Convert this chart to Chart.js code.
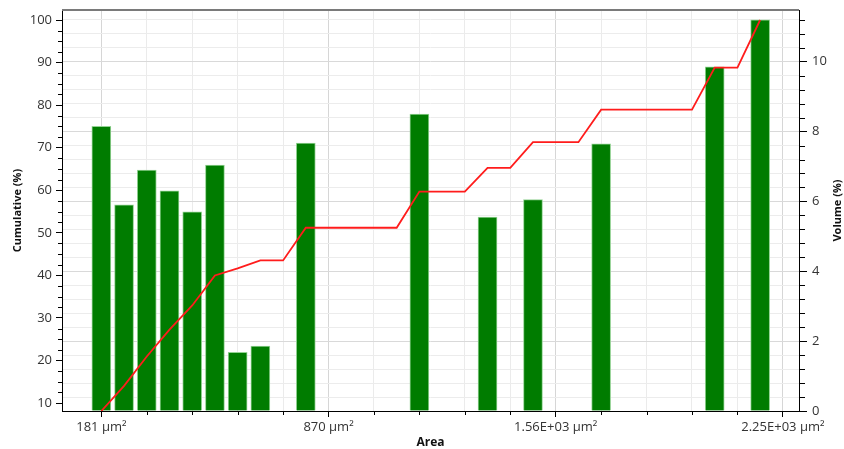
<!DOCTYPE html>
<html>
<head>
<meta charset="utf-8">
<script src="https://cdn.jsdelivr.net/npm/chart.js@4/dist/chart.umd.min.js"></script>
<style>
  html, body { margin: 0; padding: 0; background: #ffffff; }
  #wrap { width: 844px; height: 449px; }
</style>
</head>
<body>
<div id="wrap"><canvas id="chart" width="844" height="449"></canvas></div>
<script>
// Area bins (µm²), one per class
const areaBins = [181, 250, 319, 388, 457, 526, 595, 664, 733, 802,
                  871, 940, 1009, 1078, 1147, 1216, 1285, 1354, 1423, 1492,
                  1561, 1630, 1699, 1768, 1837, 1906, 1975, 2044, 2113, 2182];

// Volume share of each bin (%)
const volumePct = [8.15, 5.9, 6.9, 6.3, 5.7, 7.04, 1.68, 1.86, 0, 7.67,
                   0, 0, 0, 0, 8.5, 0, 0, 5.55, 0, 6.05,
                   0, 0, 7.65, 0, 0, 0, 0, 9.85, 0, 11.2];

// Cumulative volume (%) at each bin
const cumulativePct = [8.15, 14.05, 20.95, 27.25, 32.95, 39.99, 41.67, 43.53, 43.53, 51.2,
                       51.2, 51.2, 51.2, 51.2, 59.7, 59.7, 59.7, 65.25, 65.25, 71.3,
                       71.3, 71.3, 78.95, 78.95, 78.95, 78.95, 78.95, 88.8, 88.8, 100];

// Labelled positions on the area axis
const xMajorTicks = [181, 871, 1561, 2251];
const xTickLabels = ['181 µm²', '870 µm²', '1.56E+03 µm²', '2.25E+03 µm²'];

const FONT = "'Open Sans', 'DejaVu Sans', sans-serif";

const majorIndex = v => xMajorTicks.findIndex(m => Math.abs(m - v) < 1e-6);
const isMajorCum = v => Math.abs(v / 10 - Math.round(v / 10)) < 1e-6;
const isMajorVol = v => Math.abs(v / 2 - Math.round(v / 2)) < 1e-6;

// Short tick marks for the unlabelled ticks, plus frame line and right-hand title
const axisExtras = {
  id: 'axisExtras',
  afterDraw(chart) {
    const ctx = chart.ctx;
    const { x, yCum, yVol } = chart.scales;
    const area = chart.chartArea;
    ctx.save();
    ctx.strokeStyle = '#000';
    ctx.lineWidth = 1;
    ctx.beginPath();
    x.ticks.forEach(t => {
      if (majorIndex(t.value) < 0) {
        const px = Math.round(x.getPixelForValue(t.value)) + 0.5;
        ctx.moveTo(px, x.top);
        ctx.lineTo(px, x.top + 4);
      }
    });
    yCum.ticks.forEach(t => {
      if (!isMajorCum(t.value)) {
        const py = Math.round(yCum.getPixelForValue(t.value)) + 0.5;
        ctx.moveTo(yCum.right - 4, py);
        ctx.lineTo(yCum.right, py);
      }
    });
    yVol.ticks.forEach(t => {
      if (!isMajorVol(t.value)) {
        const py = Math.round(yVol.getPixelForValue(t.value)) + 0.5;
        ctx.moveTo(yVol.left, py);
        ctx.lineTo(yVol.left + 6, py);
      }
    });
    ctx.stroke();

    // top frame line
    ctx.strokeStyle = '#7a7a7a';
    ctx.lineWidth = 2;
    ctx.beginPath();
    ctx.moveTo(area.left, area.top);
    ctx.lineTo(area.right, area.top);
    ctx.stroke();

    // right axis title, reading bottom to top
    ctx.fillStyle = '#111';
    ctx.font = "bold 11px " + FONT;
    ctx.textAlign = 'center';
    ctx.textBaseline = 'middle';
    ctx.translate(837.5, (area.top + area.bottom) / 2);
    ctx.rotate(-Math.PI / 2);
    ctx.fillText('Volume (%)', 0, 0);
    ctx.restore();
  }
};

new Chart(document.getElementById('chart'), {
  type: 'bar',
  data: {
    datasets: [
      {
        type: 'line',
        label: 'Cumulative (%)',
        data: areaBins.map((a, i) => ({ x: a, y: cumulativePct[i] })),
        yAxisID: 'yCum',
        borderColor: '#ff1c1c',
        borderWidth: 1.8,
        pointRadius: 0,
        tension: 0,
        fill: false,
        order: 0
      },
      {
        type: 'bar',
        label: 'Volume (%)',
        data: areaBins.map((a, i) => ({ x: a, y: volumePct[i] })).filter(p => p.y > 0),
        yAxisID: 'yVol',
        backgroundColor: '#007c00',
        borderColor: '#93d293',
        borderWidth: 1,
        borderSkipped: 'start',
        barThickness: 19,
        order: 1
      }
    ]
  },
  options: {
    responsive: false,
    animation: false,
    devicePixelRatio: 1,
    layout: { padding: { top: 10, left: 0, right: 0, bottom: 0 } },
    plugins: { legend: { display: false }, tooltip: { enabled: false } },
    scales: {
      x: {
        type: 'linear',
        position: 'bottom',
        min: 61.5,
        max: 2300,
        offset: false,
        afterBuildTicks(scale) {
          const ticks = [];
          for (let v = 181; v <= 2300; v += 138) ticks.push({ value: v });
          scale.ticks = ticks;
        },
        afterFit(scale) {
          scale.height = 38;
          scale.paddingLeft = 0;
          scale.paddingRight = 0;
        },
        grid: {
          offset: false,
          color: c => majorIndex(c.tick.value) >= 0 ? '#d6d6d6' : '#ebebeb',
          tickColor: c => majorIndex(c.tick.value) >= 0 ? '#000' : 'rgba(0,0,0,0)',
          tickLength: 6
        },
        border: { color: '#000', width: 1 },
        ticks: {
          autoSkip: false,
          maxRotation: 0,
          padding: 2,
          color: '#333',
          font: { family: FONT, size: 13 },
          callback: v => { const i = majorIndex(v); return i >= 0 ? xTickLabels[i] : ''; }
        },
        title: {
          display: true,
          text: 'Area',
          color: '#111',
          font: { family: FONT, size: 12, weight: 'bold', lineHeight: 1 },
          padding: { top: 0, bottom: 0 }
        }
      },
      yCum: {
        type: 'linear',
        position: 'left',
        min: 8.15,
        max: 102.35,
        afterFit(scale) {
          scale.width = 62;
          scale.paddingTop = 0;
          scale.paddingBottom = 0;
        },
        grid: {
          drawOnChartArea: false,
          tickLength: 6,
          tickColor: c => isMajorCum(c.tick.value) ? '#000' : 'rgba(0,0,0,0)'
        },
        border: { color: '#000', width: 1 },
        ticks: {
          stepSize: 2.5,
          includeBounds: false,
          autoSkip: false,
          padding: 4,
          color: '#333',
          font: { family: FONT, size: 13 },
          callback: v => isMajorCum(v) ? String(Math.round(v)) : ''
        },
        title: {
          display: true,
          text: 'Cumulative (%)',
          color: '#111',
          font: { family: FONT, size: 11, weight: 'bold' },
          padding: { top: 11, bottom: 0 }
        }
      },
      yVol: {
        type: 'linear',
        position: 'right',
        min: 0,
        max: 11.48,
        afterFit(scale) {
          scale.width = 45;
          scale.paddingTop = 0;
          scale.paddingBottom = 0;
        },
        grid: {
          drawOnChartArea: true,
          color: c => isMajorVol(c.tick.value) ? '#d9d9d9' : '#ececec',
          tickLength: 8,
          tickColor: c => isMajorVol(c.tick.value) ? '#000' : 'rgba(0,0,0,0)'
        },
        border: { color: '#000', width: 1 },
        ticks: {
          stepSize: 0.4,
          includeBounds: false,
          autoSkip: false,
          padding: 5,
          color: '#333',
          font: { family: FONT, size: 13 },
          callback: v => isMajorVol(v) ? String(Math.round(v)) : ''
        }
      }
    }
  },
  plugins: [axisExtras]
});
</script>
</body>
</html>
